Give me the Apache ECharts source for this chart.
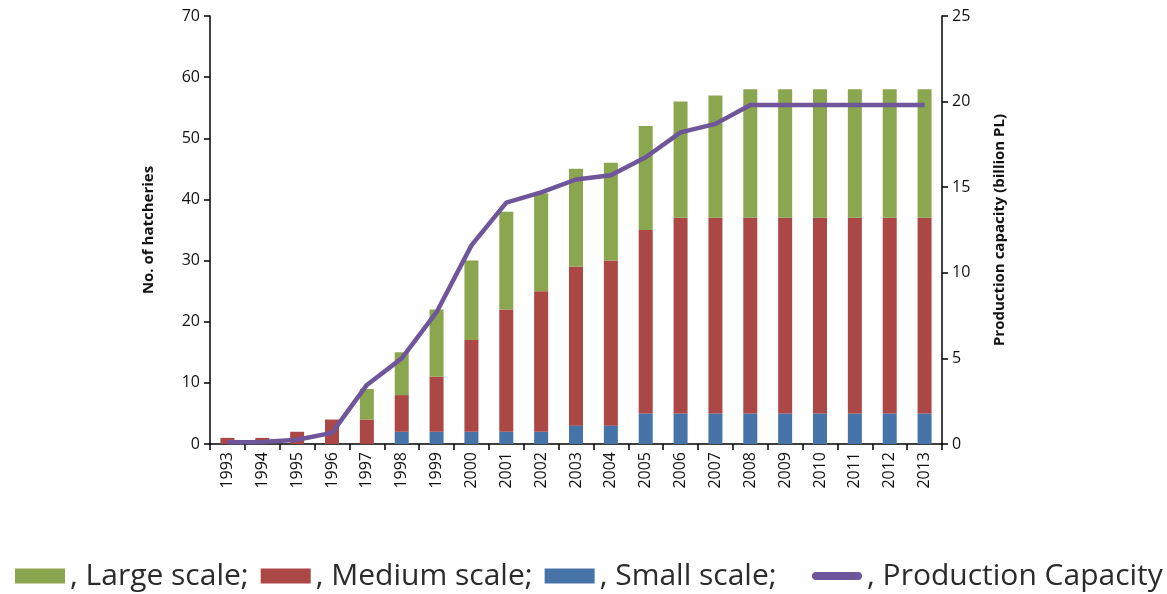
<!DOCTYPE html>
<html>
<head>
<meta charset="utf-8">
<script src="https://cdn.jsdelivr.net/npm/echarts@6/dist/echarts.min.js"></script>
<style>
  html, body { margin: 0; padding: 0; background: #fff; }
  #chart { width: 1167px; height: 594px; }
</style>
</head>
<body>
<div id="chart"></div>
<script>
// Hatchery counts by scale (stacked) and production capacity, 1993-2013
const years = ['1993','1994','1995','1996','1997','1998','1999','2000','2001','2002','2003',
               '2004','2005','2006','2007','2008','2009','2010','2011','2012','2013'];
const smallScale  = [0, 0, 0, 0, 0, 2, 2, 2, 2, 2, 3, 3, 5, 5, 5, 5, 5, 5, 5, 5, 5];
const mediumScale = [1, 1, 2, 4, 4, 6, 9, 15, 20, 23, 26, 27, 30, 32, 32, 32, 32, 32, 32, 32, 32];
const largeScale  = [0, 0, 0, 0, 5, 7, 11, 13, 16, 16, 16, 16, 17, 19, 20, 21, 21, 21, 21, 21, 21];
const capacity    = [0.1, 0.12, 0.25, 0.65, 3.45, 5.0, 7.7, 11.6, 14.1, 14.7, 15.45, 15.7,
                     16.75, 18.2, 18.7, 19.8, 19.8, 19.8, 19.8, 19.8, 19.8];

const colors = { small: '#4673A8', medium: '#AB4745', large: '#8AA64E', line: '#6F559A' };
const font = 'Open Sans';

const chart = echarts.init(document.getElementById('chart'));
chart.setOption({
  animation: false,
  textStyle: { fontFamily: font },
  grid: { left: 210, right: 225, top: 16, bottom: 150 },
  legend: {
    top: 556,
    left: 10,
    width: 1400,
    itemWidth: 50,
    itemHeight: 15,
    itemGap: 12,
    textStyle: { fontFamily: font, fontSize: 30, color: '#2b2b2b' },
    data: [
      { name: 'Large scale', icon: 'rect' },
      { name: 'Medium scale', icon: 'rect' },
      { name: 'Small scale', icon: 'rect' },
      { name: 'Production Capacity', icon: 'path://M4,0 L46,0 A4,4 0 0 1 46,8 L4,8 A4,4 0 0 1 4,0 Z' }
    ],
    formatter: function (name) {
      if (name === 'Production Capacity') return ', ' + name;
      if (name === 'Small scale') return ', ' + name + ';   ';
      return ', ' + name + ';';
    }
  },
  xAxis: {
    type: 'category',
    data: years,
    boundaryGap: true,
    axisLine: { lineStyle: { color: '#000', width: 1.5 } },
    axisTick: { show: true, length: 6, lineStyle: { color: '#000', width: 1.5 } },
    axisLabel: { rotate: 90, color: '#111', fontSize: 16, margin: 8, interval: 0 }
  },
  yAxis: [
    {
      type: 'value',
      min: 0, max: 70, interval: 10,
      name: 'No. of hatcheries',
      nameLocation: 'middle',
      nameGap: 54,
      nameRotate: 90,
      nameTextStyle: { fontSize: 15, fontWeight: 'bold', color: '#111' },
      axisLine: { show: true, lineStyle: { color: '#000', width: 1.5 } },
      axisTick: { show: true, length: 6, lineStyle: { color: '#000', width: 1.5 } },
      axisLabel: { color: '#111', fontSize: 16, margin: 10 },
      splitLine: { show: false }
    },
    {
      type: 'value',
      min: 0, max: 25, interval: 5,
      position: 'right',
      name: 'Production capacity (billion PL)',
      nameLocation: 'middle',
      nameGap: 50,
      nameRotate: 90,
      nameTextStyle: { fontSize: 15, fontWeight: 'bold', color: '#111' },
      axisLine: { show: true, lineStyle: { color: '#000', width: 1.5 } },
      axisTick: { show: true, length: 6, lineStyle: { color: '#000', width: 1.5 } },
      axisLabel: { color: '#111', fontSize: 16, margin: 10 },
      splitLine: { show: false }
    }
  ],
  series: [
    { name: 'Small scale', type: 'bar', stack: 'h', barWidth: 14, data: smallScale,
      itemStyle: { color: colors.small } },
    { name: 'Medium scale', type: 'bar', stack: 'h', barWidth: 14, data: mediumScale,
      itemStyle: { color: colors.medium } },
    { name: 'Large scale', type: 'bar', stack: 'h', barWidth: 14, data: largeScale,
      itemStyle: { color: colors.large } },
    { name: 'Production Capacity', type: 'line', yAxisIndex: 1, data: capacity,
      symbol: 'none', lineStyle: { color: colors.line, width: 4.5 },
      itemStyle: { color: colors.line }, z: 5 }
  ]
});
</script>
</body>
</html>
